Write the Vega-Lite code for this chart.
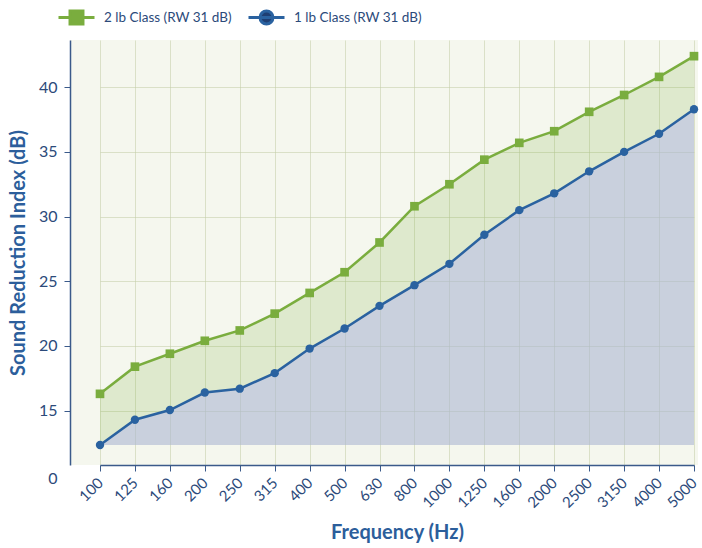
{
  "$schema": "https://vega.github.io/schema/vega-lite/v6.json",
  "width": 628,
  "height": 425,
  "autosize": "none",
  "padding": {"left": 70, "top": 40, "right": 4, "bottom": 83},
  "background": "white",
  "config": {
    "view": {"fill": "#f5f7ee", "stroke": null},
    "font": "Lato"
  },
  "data": {
    "values": [
      {"freq": "100", "series": "2 lb Class (RW 31 dB)", "value": 16.3},
      {"freq": "125", "series": "2 lb Class (RW 31 dB)", "value": 18.4},
      {"freq": "160", "series": "2 lb Class (RW 31 dB)", "value": 19.4},
      {"freq": "200", "series": "2 lb Class (RW 31 dB)", "value": 20.4},
      {"freq": "250", "series": "2 lb Class (RW 31 dB)", "value": 21.2},
      {"freq": "315", "series": "2 lb Class (RW 31 dB)", "value": 22.5},
      {"freq": "400", "series": "2 lb Class (RW 31 dB)", "value": 24.1},
      {"freq": "500", "series": "2 lb Class (RW 31 dB)", "value": 25.7},
      {"freq": "630", "series": "2 lb Class (RW 31 dB)", "value": 28.0},
      {"freq": "800", "series": "2 lb Class (RW 31 dB)", "value": 30.8},
      {"freq": "1000", "series": "2 lb Class (RW 31 dB)", "value": 32.5},
      {"freq": "1250", "series": "2 lb Class (RW 31 dB)", "value": 34.4},
      {"freq": "1600", "series": "2 lb Class (RW 31 dB)", "value": 35.7},
      {"freq": "2000", "series": "2 lb Class (RW 31 dB)", "value": 36.6},
      {"freq": "2500", "series": "2 lb Class (RW 31 dB)", "value": 38.1},
      {"freq": "3150", "series": "2 lb Class (RW 31 dB)", "value": 39.4},
      {"freq": "4000", "series": "2 lb Class (RW 31 dB)", "value": 40.8},
      {"freq": "5000", "series": "2 lb Class (RW 31 dB)", "value": 42.4},
      {"freq": "100", "series": "1 lb Class (RW 31 dB)", "value": 12.35},
      {"freq": "125", "series": "1 lb Class (RW 31 dB)", "value": 14.3},
      {"freq": "160", "series": "1 lb Class (RW 31 dB)", "value": 15.05},
      {"freq": "200", "series": "1 lb Class (RW 31 dB)", "value": 16.4},
      {"freq": "250", "series": "1 lb Class (RW 31 dB)", "value": 16.7},
      {"freq": "315", "series": "1 lb Class (RW 31 dB)", "value": 17.9},
      {"freq": "400", "series": "1 lb Class (RW 31 dB)", "value": 19.8},
      {"freq": "500", "series": "1 lb Class (RW 31 dB)", "value": 21.35},
      {"freq": "630", "series": "1 lb Class (RW 31 dB)", "value": 23.1},
      {"freq": "800", "series": "1 lb Class (RW 31 dB)", "value": 24.7},
      {"freq": "1000", "series": "1 lb Class (RW 31 dB)", "value": 26.35},
      {"freq": "1250", "series": "1 lb Class (RW 31 dB)", "value": 28.6},
      {"freq": "1600", "series": "1 lb Class (RW 31 dB)", "value": 30.5},
      {"freq": "2000", "series": "1 lb Class (RW 31 dB)", "value": 31.8},
      {"freq": "2500", "series": "1 lb Class (RW 31 dB)", "value": 33.5},
      {"freq": "3150", "series": "1 lb Class (RW 31 dB)", "value": 35.0},
      {"freq": "4000", "series": "1 lb Class (RW 31 dB)", "value": 36.4},
      {"freq": "5000", "series": "1 lb Class (RW 31 dB)", "value": 38.3}
    ]
  },
  "encoding": {
    "x": {
      "field": "freq",
      "type": "ordinal",
      "sort": null,
      "scale": {"type": "point", "range": [30, 624], "padding": 0},
      "axis": {
        "title": "Frequency (Hz)",
        "titleFontSize": 20,
        "titleFontWeight": "bold",
        "titleColor": "#2c5e9b",
        "titlePadding": 12,
        "labelAngle": -45,
        "labelAlign": "right",
        "labelBaseline": "middle",
        "labelFontSize": 15,
        "labelColor": "#2c4a7a",
        "labelPadding": 9,
        "tickSize": 6,
        "tickColor": "#3a5a8a",
        "domainColor": "#3a5a8a",
        "domainWidth": 1.5,
        "grid": true,
        "gridColor": "#c3cda8",
        "gridOpacity": 0.55
      }
    }
  },
  "layer": [
    {
      "transform": [{"filter": "datum.series === '2 lb Class (RW 31 dB)'"}],
      "mark": {"type": "area", "fill": "#7aad3e", "fillOpacity": 0.19},
      "encoding": {
        "y": {
          "field": "value",
          "type": "quantitative",
          "scale": {"domain": [10.8, 43.65], "nice": false, "zero": false},
          "axis": {
            "title": "Sound Reduction Index (dB)",
            "titleFontSize": 20,
            "titleFontWeight": "bold",
            "titleColor": "#2c5e9b",
            "titlePadding": 10,
            "values": [10.8, 15, 20, 25, 30, 35, 40],
            "labelExpr": "datum.value < 12 ? '0' : datum.label",
            "labelFontSize": 16,
            "labelColor": "#2c4a7a",
            "labelPadding": 7,
            "labelFlush": false,
            "labelOverlap": false,
            "labelOffset": {"condition": {"test": "datum.value < 12", "value": 13}, "value": 0},
            "tickSize": 6,
            "tickColor": "#3a5a8a",
            "tickOpacity": {"condition": {"test": "datum.value < 12", "value": 0}, "value": 1},
            "domainColor": "#3a5a8a",
            "domainWidth": 1.5,
            "grid": true,
            "gridColor": "#c3cda8",
            "gridOpacity": 0.55
          }
        },
        "y2": {"datum": 12.35}
      }
    },
    {
      "transform": [{"filter": "datum.series === '1 lb Class (RW 31 dB)'"}],
      "mark": {"type": "area", "fill": "#b3b8ee", "fillOpacity": 0.5},
      "encoding": {
        "y": {"field": "value", "type": "quantitative"},
        "y2": {"datum": 12.35}
      }
    },
    {
      "mark": {"type": "line", "strokeWidth": 2.5},
      "encoding": {
        "y": {"field": "value", "type": "quantitative"},
        "color": {
          "field": "series",
          "type": "nominal",
          "scale": {
            "domain": ["2 lb Class (RW 31 dB)", "1 lb Class (RW 31 dB)"],
            "range": ["#7aad3e", "#2a62a0"]
          },
          "legend": {
            "title": null,
            "orient": "none",
            "direction": "horizontal",
            "legendX": -13,
            "legendY": -42,
            "labelFontSize": 13.5,
            "labelColor": "#2c4a7a",
            "labelOffset": 8,
            "columnPadding": 10,
            "symbolSize": 1296,
            "symbolStrokeWidth": 3,
            "encoding": {
              "symbols": {
                "shape": {"condition": {"test": "datum.value === '2 lb Class (RW 31 dB)'", "value": "M-1,0H1M-0.36,-0.36H0.36V0.36H-0.36Z"}, "value": "M-1,0H1M-0.36,0A0.36,0.36,0,1,0,0.36,0A0.36,0.36,0,1,0,-0.36,0Z"},
                "fill": {"condition": {"test": "datum.value === '2 lb Class (RW 31 dB)'", "value": "#7aad3e"}, "value": "#1f3f73"},
                "stroke": {"condition": {"test": "datum.value === '2 lb Class (RW 31 dB)'", "value": "#7aad3e"}, "value": "#1f3f73"},
                "strokeWidth": {"value": 3},
                "opacity": {"value": 1},
                "fillOpacity": {"value": 1}
              }
            }
          }
        }
      }
    },
    {
      "transform": [{"filter": "datum.series === '2 lb Class (RW 31 dB)'"}],
      "mark": {"type": "point", "filled": true, "opacity": 1, "size": 75, "shape": "square", "color": "#7aad3e"},
      "encoding": {
        "y": {"field": "value", "type": "quantitative"}
      }
    },
    {
      "transform": [{"filter": "datum.series === '1 lb Class (RW 31 dB)'"}],
      "mark": {"type": "point", "filled": true, "opacity": 1, "size": 70, "shape": "circle", "color": "#2a62a0"},
      "encoding": {
        "y": {"field": "value", "type": "quantitative"}
      }
    }
  ]
}
